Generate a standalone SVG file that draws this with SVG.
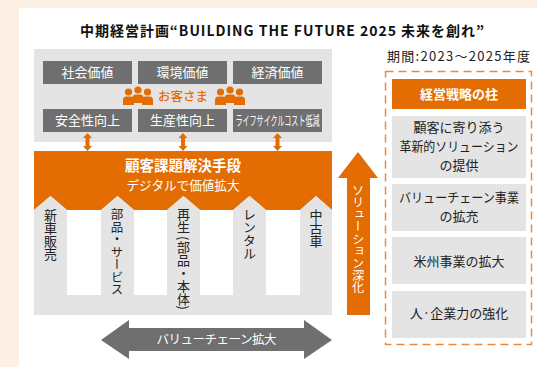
<svg xmlns="http://www.w3.org/2000/svg" width="537" height="367" viewBox="0 0 537 367">
<defs>
<style>
text{font-family:"Noto Sans CJK JP","Noto Sans",sans-serif;text-anchor:middle}
.g{fill:#e4e4e4}.d{fill:#6f6f6f}.o{fill:#e36c03}
.w{fill:#fff;font-size:13px}.k{fill:#222;font-size:13px}
.v{writing-mode:vertical-rl;text-anchor:start;font-size:13px;fill:#222}
</style>
<g id="person"><circle cx="0" cy="-8" r="3.6" class="o"/><path class="o" d="M-5.500 5V0Q-5.500-3.500-2-3.500H2Q5.500-3.500 5.500 0V5Z"/></g>
<g id="people"><use href="#person" x="-9.500" y="0"/><use href="#person" x="0" y="-2"/><use href="#person" x="9.500" y="0"/></g>
<path id="da" class="o" d="M0 0L4.500 5H2V13H4.500L0 18L-4.500 13H-2V5H-4.500Z"/>
</defs>
<rect width="537" height="367" fill="#fff"/>
<path d="M0 0H537V8H19V367H0Z" fill="#fdf1e6"/>
<text x="282" y="36" font-size="14" font-weight="700" fill="#111" textLength="404">中期経営計画“BUILDING THE FUTURE 2025 未来を創れ”</text>
<g id="value-panel">
<rect class="g" x="34" y="49" width="298" height="93"/>
</g>
<g id="n-social"><rect class="d" x="43" y="61" width="89" height="23"/><text class="w" x="87.500" y="77">社会価値</text></g>
<g id="n-env"><rect class="d" x="138" y="61" width="89" height="23"/><text class="w" x="182.500" y="77">環境価値</text></g>
<g id="n-econ"><rect class="d" x="233" y="61" width="89" height="23"/><text class="w" x="277.500" y="77">経済価値</text></g>
<g id="n-customer"><use href="#people" x="138" y="100"/><use href="#people" x="230" y="100"/><text x="183" y="101" font-size="12.500" font-weight="500" class="o">お客さま</text></g>
<g id="n-safety"><rect class="d" x="43" y="109" width="89" height="23"/><text class="w" x="87.500" y="125">安全性向上</text></g>
<g id="n-prod"><rect class="d" x="138" y="109" width="89" height="23"/><text class="w" x="182.500" y="125">生産性向上</text></g>
<g id="n-lcc"><rect class="d" x="233" y="109" width="89" height="23"/><text class="w" x="277.500" y="125" textLength="84" lengthAdjust="spacingAndGlyphs">ライフサイクルコスト低減</text></g>
<g id="connectors">
<use href="#da" x="87.500" y="133"/><use href="#da" x="183" y="133"/><use href="#da" x="277.500" y="133"/>
</g>
<g id="n-solution">
<rect class="g" x="34" y="205" width="298" height="110"/>
<rect x="67" y="210" width="34" height="85" fill="#fff"/><rect x="134" y="210" width="33" height="85" fill="#fff"/><rect x="200" y="210" width="33" height="85" fill="#fff"/><rect x="266" y="210" width="34" height="85" fill="#fff"/>
<path class="o" d="M34 151H332V210L316 196L300 210H266L249.500 196L233 210H200L183.500 196L167 210H134L117.500 196L101 210H67L50.500 196L34 210Z"/>
<path class="g" d="M34 210L50.500 196L67 210ZM101 210L117.500 196L134 210ZM167 210L183.500 196L200 210ZM233 210L249.500 196L266 210ZM300 210L316 196L332 210Z"/>
<text x="183" y="171" font-size="14.500" font-weight="700" fill="#fff">顧客課題解決手段</text>
<text x="183" y="190" font-size="12.600" fill="#fff">デジタルで価値拡大</text>
</g>
<g id="n-channels">
<text class="v" x="50.500" y="209">新車販売</text>
<text class="v" x="117" y="208" style="font-size:12.500px">部品・サービス</text>
<text class="v" x="183.500" y="208">再生<tspan dy="2">(</tspan>部品・本体)</text>
<text class="v" x="249.500" y="208">レンタル</text>
<text class="v" x="316" y="209">中古車</text>
</g>
<g id="n-deepen">
<path class="o" d="M358 152L378 178H370V315H347V178H338Z"/>
<text class="v" x="358" y="184" style="fill:#fff;font-size:12.200px">ソリューション深化</text>
</g>
<g id="n-vc">
<path class="d" d="M101 340L129 320V328H304V320L332 340L304 359V351H129V359Z"/>
<text x="216.500" y="344" font-size="12.500" fill="#fff" textLength="120">バリューチェーン拡大</text>
</g>
<text x="458.500" y="61" font-size="13" fill="#222" textLength="143">期間:2023～2025年度</text>
<g id="n-pillars">
<rect x="385.500" y="71.500" width="146" height="273" fill="none" stroke="#ec8a3c" stroke-width="1.500" stroke-dasharray="8 5"/>
</g>
<g id="n-head"><rect class="o" x="392" y="79" width="134" height="30"/><text x="459" y="98.500" font-size="13" font-weight="700" fill="#fff">経営戦略の柱</text></g>
<g id="n-p1"><rect class="g" x="392" y="116" width="134" height="62"/><text class="k" x="459" y="132">顧客に寄り添う</text><text class="k" x="459" y="151" textLength="119" lengthAdjust="spacingAndGlyphs">革新的ソリューション</text><text class="k" x="459" y="170">の提供</text></g>
<g id="n-p2"><rect class="g" x="392" y="184" width="134" height="47"/><text class="k" x="459" y="202" textLength="120" lengthAdjust="spacingAndGlyphs">バリューチェーン事業</text><text class="k" x="459" y="221">の拡充</text></g>
<g id="n-p3"><rect class="g" x="392" y="237" width="134" height="47"/><text class="k" x="459" y="266">米州事業の拡大</text></g>
<g id="n-p4"><rect class="g" x="392" y="291" width="134" height="47"/><text class="k" x="459" y="318">人·企業力の強化</text></g>
</svg>
